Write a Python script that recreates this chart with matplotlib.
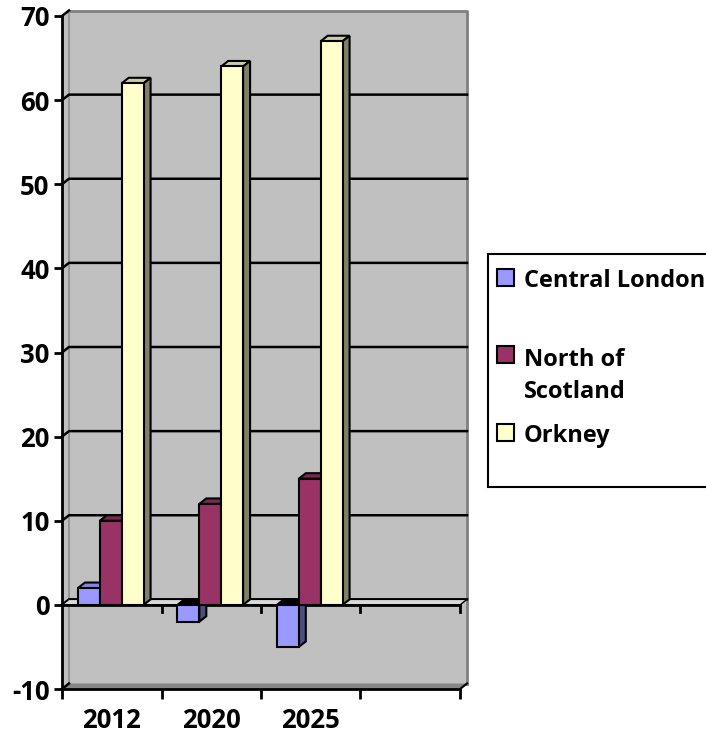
import matplotlib
matplotlib.use('Agg')
from matplotlib import pyplot as plt
from matplotlib.patches import Polygon, Rectangle
import numpy as np

plt.rcParams['font.family'] = ['Open Sans', 'DejaVu Sans']
plt.rcParams['font.weight'] = 'bold'

categories = ['2012', '2020', '2025']
series_names = ['Central London', 'North of Scotland', 'Orkney']
legend_labels = ['Central London', 'North of\nScotland', 'Orkney']
central_london = [2, -2, -5]
north_of_scotland = [10, 12, 15]
orkney = [62, 64, 67]
series_values = [central_london, north_of_scotland, orkney]

front_colors = ['#9999FF', '#993366', '#FFFFCC']
top_colors = ['#8585E0', '#7A2952', '#CCCCA3']
side_colors = ['#4D4D80', '#4D1A33', '#808066']

W, H = 706, 736
fig = plt.figure(figsize=(W / 100, H / 100), dpi=100)

# axes spans the front plane of the 3d box (pixel layout from the reference)
ax_l, ax_r, ax_t, ax_b = 62, 460, 16, 689
ax = fig.add_axes([ax_l / W, 1 - ax_b / H, (ax_r - ax_l) / W, (ax_b - ax_t) / H])
n_slots = 4
ymin, ymax = -10, 70
ax.set_xlim(0, n_slots)
ax.set_ylim(ymin, ymax)
ax.patch.set_visible(False)

# depth offset of the back wall, in data units
dx = 7 / ((ax_r - ax_l) / n_slots)
dy = 5.5 * (ymax - ymin) / (ax_b - ax_t)

wall = '#C0C0C0'
ax.add_patch(Polygon([(dx, ymin + dy), (n_slots + dx, ymin + dy), (n_slots + dx, ymax + dy), (dx, ymax + dy)],
                     closed=True, facecolor=wall, edgecolor='none', zorder=0, clip_on=False))
ax.add_patch(Polygon([(0, ymin), (dx, ymin + dy), (dx, ymax + dy), (0, ymax)],
                     closed=True, facecolor=wall, edgecolor='none', zorder=0, clip_on=False))
ax.add_patch(Polygon([(0, ymin), (n_slots, ymin), (n_slots + dx, ymin + dy), (dx, ymin + dy)],
                     closed=True, facecolor='#858585', edgecolor='none', zorder=0.5, clip_on=False))
ax.plot([dx, n_slots + dx, n_slots + dx], [ymax + dy, ymax + dy, ymin + dy], color='#808080', lw=2,
        zorder=0.6, clip_on=False)
ax.plot([dx, dx], [ymin + dy, ymax + dy], color='#969696', lw=1.5, zorder=0.6, clip_on=False)

# gridlines on the back wall with the short diagonal on the side wall
yticks = np.arange(ymin, ymax + 1, 10)
for y in yticks:
    if y in (ymin, ymax):
        ax.plot([0, dx], [y, y + dy], color='black', lw=1.8, zorder=1, clip_on=False)
    else:
        ax.plot([0, dx, n_slots + dx], [y, y + dy, y + dy], color='black', lw=1.8, zorder=1, clip_on=False)
ax.plot([n_slots, n_slots + dx], [ymin, ymin + dy], color='black', lw=1.5, zorder=1, clip_on=False)

# floor at zero
ax.add_patch(Polygon([(0, 0), (n_slots, 0), (n_slots + dx, dy), (dx, dy)], closed=True,
                     facecolor='#D9D9D9', edgecolor='black', lw=1, zorder=1.5, clip_on=False))
ax.plot([0, n_slots], [0, 0], color='black', lw=2, zorder=2, clip_on=False)
for i in range(1, n_slots + 1):
    ax.plot([i, i], [0, -0.8], color='black', lw=2, zorder=2, clip_on=False)

# 3d bars
bar_w = 0.22
first_off = 0.16
x_idx = np.arange(len(categories))
for s, vals in enumerate(series_values):
    x0 = x_idx + first_off + s * bar_w
    ax.bar(x0, vals, width=bar_w, align='edge', color=front_colors[s], edgecolor='black',
           linewidth=1.5, zorder=4)
    for xl, v in zip(x0, vals):
        xr = xl + bar_w
        top = max(v, 0)
        top_c = top_colors[s] if v > 0 else '#000000'
        ax.add_patch(Polygon([(xl, top), (xr, top), (xr + dx, top + dy), (xl + dx, top + dy)], closed=True,
                             facecolor=top_c, edgecolor='black', lw=1.5, zorder=3))
        ax.add_patch(Polygon([(xr, 0), (xr + dx, dy), (xr + dx, v + dy), (xr, v)], closed=True,
                             facecolor=side_colors[s], edgecolor='black', lw=1.5, zorder=3))

# axes
for side in ('top', 'right'):
    ax.spines[side].set_visible(False)
ax.spines['left'].set_linewidth(2)
ax.spines['bottom'].set_linewidth(2)
ax.spines['left'].set_zorder(5)
ax.spines['bottom'].set_zorder(5)
ax.set_yticks(yticks)
ax.set_yticklabels([str(v) for v in yticks], fontsize=18.5, fontweight='bold')
ax.tick_params(axis='y', direction='out', length=6, width=2, pad=3)
ax.set_xticks(np.arange(n_slots + 1))
ax.set_xticklabels([])
ax.tick_params(axis='x', which='major', direction='out', length=7, width=2)
ax.set_xticks(x_idx + 0.5, minor=True)
ax.set_xticklabels(categories, minor=True, fontsize=18.5, fontweight='bold')
ax.tick_params(axis='x', which='minor', length=0, pad=13)

# legend box, laid out like the reference (it runs off the right edge)
fig.patches.append(Rectangle((488 / W, 1 - 487 / H), (730 - 488) / W, (487 - 254) / H,
                             transform=fig.transFigure, facecolor='white', edgecolor='black', lw=1.5))
entry_pos = [(269, 287), (346, 398), (424, 442)]  # square top, baseline of last text line (px)
for s, (sq_top, base) in enumerate(entry_pos):
    fig.patches.append(Rectangle((497 / W, 1 - (sq_top + 17) / H), 17 / W, 17 / H, transform=fig.transFigure,
                                 facecolor=front_colors[s], edgecolor='black', lw=1.5))
    fig.text(524 / W, 1 - base / H, legend_labels[s], fontsize=17, fontweight='bold', va='baseline',
             ha='left', linespacing=1.45)

fig.savefig('out.png', dpi=100)
